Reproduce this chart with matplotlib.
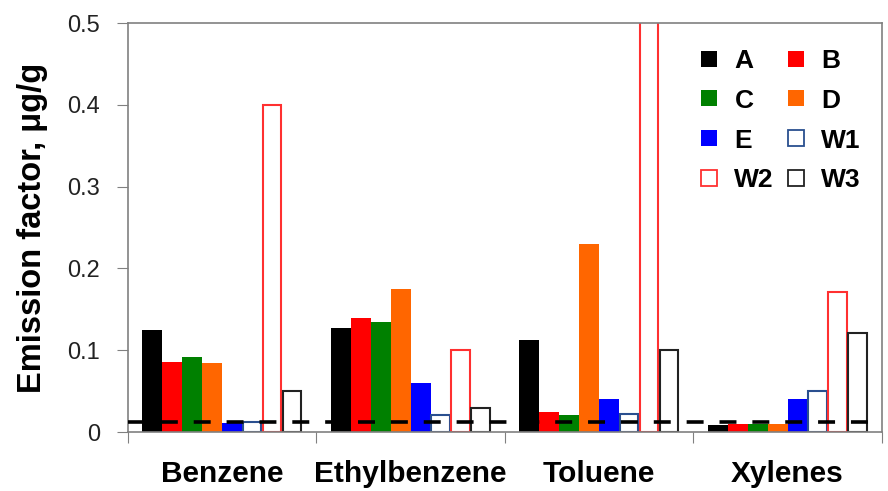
import matplotlib.pyplot as plt
from matplotlib.lines import Line2D

plt.rcParams['font.family'] = ['Liberation Sans', 'DejaVu Sans']

compounds = ["Benzene", "Ethylbenzene", "Toluene", "Xylenes"]
series = ["A", "B", "C", "D", "E", "W1", "W2", "W3"]

A = [0.125, 0.127, 0.112, 0.009]
B = [0.086, 0.140, 0.025, 0.010]
C = [0.092, 0.134, 0.021, 0.010]
D = [0.084, 0.175, 0.230, 0.010]
E = [0.011, 0.060, 0.040, 0.041]
W1 = [0.012, 0.021, 0.022, 0.050]
W2 = [0.400, 0.100, 0.600, 0.171]
W3 = [0.050, 0.029, 0.100, 0.121]
detection_limit = 0.012

values = [A, B, C, D, E, W1, W2, W3]
face = ["black", "#ff0000", "#008000", "#ff6600", "#0000ff", "white", "white", "white"]
edge = ["black", "#ff0000", "#008000", "#ff6600", "#0000ff", "#2a4f8f", "#ff3030", "#222222"]

fig = plt.figure(figsize=(8.88, 4.91), dpi=100)
ax = fig.add_axes([0.144, 0.120, 0.849, 0.833])

w = 0.106
start = (1 - 8 * w) / 2
for j, vals in enumerate(values):
    xs = [i + start + w * (j + 0.5) for i in range(len(compounds))]
    if j < 5:
        ax.bar(xs, vals, width=w, color=face[j], edgecolor=edge[j], linewidth=0, zorder=2)
    else:
        ax.bar(xs, vals, width=w * 0.93, color=face[j], edgecolor=edge[j], linewidth=1.5, zorder=2)

ax.axhline(detection_limit, color="black", linewidth=2.6, dashes=(4.7, 4.4), zorder=3)

ax.set_xlim(0, 4)
ax.set_ylim(0, 0.5)
ax.set_yticks([0, 0.1, 0.2, 0.3, 0.4, 0.5])
ax.set_yticklabels(["0", "0.1", "0.2", "0.3", "0.4", "0.5"], fontsize=17, color="#222222")
ax.set_xticks([0, 1, 2, 3, 4])
ax.set_xticklabels([])
ax.set_xticks([i + 0.5 for i in range(len(compounds))], minor=True)
ax.set_xticklabels(compounds, minor=True, fontsize=21.5, fontweight="bold")
ax.tick_params(axis="x", which="minor", length=0, pad=20)
ax.tick_params(axis="x", which="major", length=8, color="#808080", direction="out")
ax.tick_params(axis="y", length=8, color="#808080", direction="out", pad=12)
for s in ax.spines.values():
    s.set_color("#808080")
    s.set_linewidth(1.2)

ax.set_ylabel("Emission factor, μg/g", fontsize=23.5, fontweight="bold", labelpad=14)

handles = [Line2D([], [], marker="s", linestyle="none", markersize=12,
                  markerfacecolor=face[j], markeredgecolor=edge[j],
                  markeredgewidth=1.3 if j >= 5 else 0) for j in range(8)]
# two columns, row order A B / C D / E W1 / W2 W3
order = [0, 2, 4, 6, 1, 3, 5, 7]
ax.legend([handles[k] for k in order], [series[k] for k in order], ncol=2,
          loc="upper right", bbox_to_anchor=(1.004, 0.995), frameon=False,
          prop={"weight": "bold", "size": 19}, handletextpad=0.45,
          columnspacing=0.35, labelspacing=0.6, handlelength=1.0)

fig.savefig("out.png", dpi=100)
